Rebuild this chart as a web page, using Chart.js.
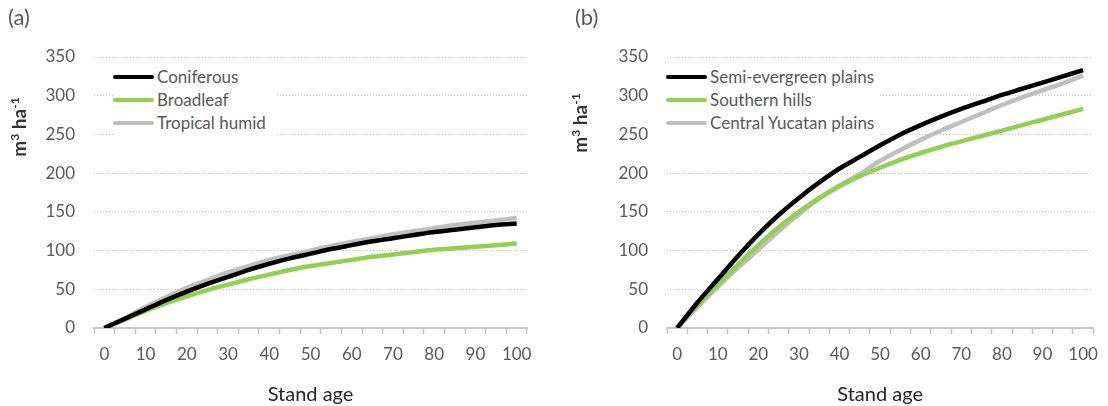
<!DOCTYPE html>
<html lang="en">
<head>
    <meta charset="UTF-8">
    <title>Stand volume curves</title>
    <script src="https://cdn.jsdelivr.net/npm/chart.js"></script>
    <style>
        body {
            margin: 0;
            background: #ffffff;
            font-family: Lato, "Open Sans", sans-serif;
        }
        .wrap {
            position: relative;
            width: 1108px;
            height: 406px;
        }
        .panel {
            position: absolute;
            top: 0;
            width: 554px;
            height: 406px;
        }
        .tag {
            position: absolute;
            top: 3px;
            font-size: 22px;
            color: #595959;
        }
        .ytitle {
            position: absolute;
            transform: translate(-50%, -50%) rotate(-90deg);
            font-size: 19px;
            font-weight: bold;
            color: #333333;
            white-space: nowrap;
        }
        .ytitle sup {
            font-size: 12px;
            vertical-align: 7px;
        }
        .legend {
            position: absolute;
            top: 63px;
            background: #ffffff;
            padding: 2px 0;
        }
        .legend div {
            display: flex;
            align-items: center;
            height: 23px;
            font-size: 17px;
            color: #595959;
        }
        .legend span.swatch {
            display: inline-block;
            width: 41px;
            height: 4px;
            border-radius: 2px;
            margin-right: 3px;
        }
    </style>
</head>
<body>
<div class="wrap">
    <div class="panel" style="left:0">
        <canvas id="chartA"></canvas>
    </div>
    <div class="panel" style="left:554px">
        <canvas id="chartB"></canvas>
    </div>
    <div class="tag" style="left:8px">(a)</div>
    <div class="tag" style="left:575px">(b)</div>
    <div class="ytitle" style="left:18px; top:127px">m<sup>3</sup> ha<sup>-1</sup></div>
    <div class="ytitle" style="left:579px; top:123px">m<sup>3</sup> ha<sup>-1</sup></div>
    <div class="legend" id="legendA" style="left:113px; width:162px"></div>
    <div class="legend" id="legendB" style="left:666px; width:213px"></div>
</div>

<script>
    // x categories (stand age, years)
    const standAge = [0, 5, 10, 15, 20, 25, 30, 35, 40, 45, 50, 55, 60, 65, 70, 75, 80, 85, 90, 95, 100];
    const yTicks = [0, 50, 100, 150, 200, 250, 300, 350];

    // panel (a) - forest type
    const namesA = ['Coniferous', 'Broadleaf', 'Tropical humid'];
    const coniferous    = [0, 12, 24, 36, 47, 57, 66, 75, 83, 90, 96, 102, 107, 112, 116, 120, 124, 127, 130, 133, 135];
    const broadleaf     = [0, 11, 22, 32, 41, 49, 56, 63, 69, 75, 80, 84, 88, 92, 95, 98, 101, 103, 105, 107, 109];
    const tropicalHumid = [0, 13, 27, 40, 52, 62, 72, 80, 88, 94, 100, 106, 111, 116, 121, 125, 129, 133, 136, 139, 142];

    // panel (b) - region
    const namesB = ['Semi-evergreen plains', 'Southern hills', 'Central Yucatan plains'];
    const semiEvergreen  = [0, 33, 63, 93, 121, 146, 168, 188, 206, 221, 236, 250, 262, 273, 283, 292, 301, 309, 317, 325, 333];
    const southernHills  = [0, 29, 56, 82, 107, 130, 150, 168, 183, 196, 207, 217, 226, 234, 241, 248, 255, 262, 269, 276, 283];
    const centralYucatan = [0, 27, 53, 78, 101, 125, 147, 167, 184, 199, 216, 230, 243, 255, 266, 277, 288, 298, 307, 316, 326];

    const colors = ['#000000', '#92d050', '#bfbfbf'];

    function buildLegend(id, names) {
        const box = document.getElementById(id);
        names.forEach((n, i) => {
            const row = document.createElement('div');
            const sw = document.createElement('span');
            sw.className = 'swatch';
            sw.style.background = colors[i];
            row.appendChild(sw);
            row.appendChild(document.createTextNode(n));
            box.appendChild(row);
        });
    }

    function makeChart(id, names, series, yWidth, padRight) {
        const ctx = document.getElementById(id).getContext('2d');
        return new Chart(ctx, {
            type: 'line',
            data: {
                labels: standAge.map(String),
                datasets: series.map((d, i) => ({
                    label: names[i],
                    data: d,
                    borderColor: colors[i],
                    backgroundColor: colors[i],
                    borderWidth: 4.5,
                    pointRadius: 0,
                    cubicInterpolationMode: 'monotone'
                }))
            },
            options: {
                responsive: true,
                maintainAspectRatio: false,
                animation: false,
                layout: { padding: { top: 57, right: padRight, bottom: 0, left: 0 } },
                plugins: {
                    legend: { display: false },
                    tooltip: { enabled: false }
                },
                scales: {
                    x: {
                        type: 'category',
                        offset: true,
                        grid: {
                            display: true,
                            offset: true,
                            drawOnChartArea: false,
                            drawTicks: true,
                            tickLength: 6,
                            tickWidth: 1.5,
                            tickColor: '#bfbfbf',
                            color: '#bfbfbf'
                        },
                        border: { display: true, color: '#c8c8c8', width: 2 },
                        ticks: {
                            autoSkip: false,
                            maxRotation: 0,
                            padding: 10,
                            color: '#595959',
                            font: { family: 'Lato', size: 17 },
                            callback: (v, i) => (standAge[i] % 10 === 0 ? standAge[i] : '')
                        },
                        title: {
                            display: true,
                            text: 'Stand age',
                            color: '#262626',
                            font: { family: 'Lato', size: 20, lineHeight: 1.1 },
                            padding: { top: 0, bottom: 0 }
                        },
                        afterFit: (s) => { s.height = 78; }
                    },
                    y: {
                        min: 0,
                        max: 350,
                        afterBuildTicks: (s) => { s.ticks = yTicks.map(v => ({ value: v })); },
                        grid: {
                            drawTicks: false,
                            color: '#c4c4c4',
                            lineWidth: 1
                        },
                        border: { display: false, dash: [1, 2] },
                        ticks: {
                            padding: 19,
                            color: '#595959',
                            font: { family: 'Lato', size: 17 }
                        },
                        afterFit: (s) => { s.width = yWidth; }
                    }
                }
            }
        });
    }

    buildLegend('legendA', namesA);
    buildLegend('legendB', namesB);
    makeChart('chartA', namesA, [coniferous, broadleaf, tropicalHumid], 94, 27);
    makeChart('chartB', namesB, [semiEvergreen, southernHills, centralYucatan], 113, 6);
</script>
</body>
</html>
